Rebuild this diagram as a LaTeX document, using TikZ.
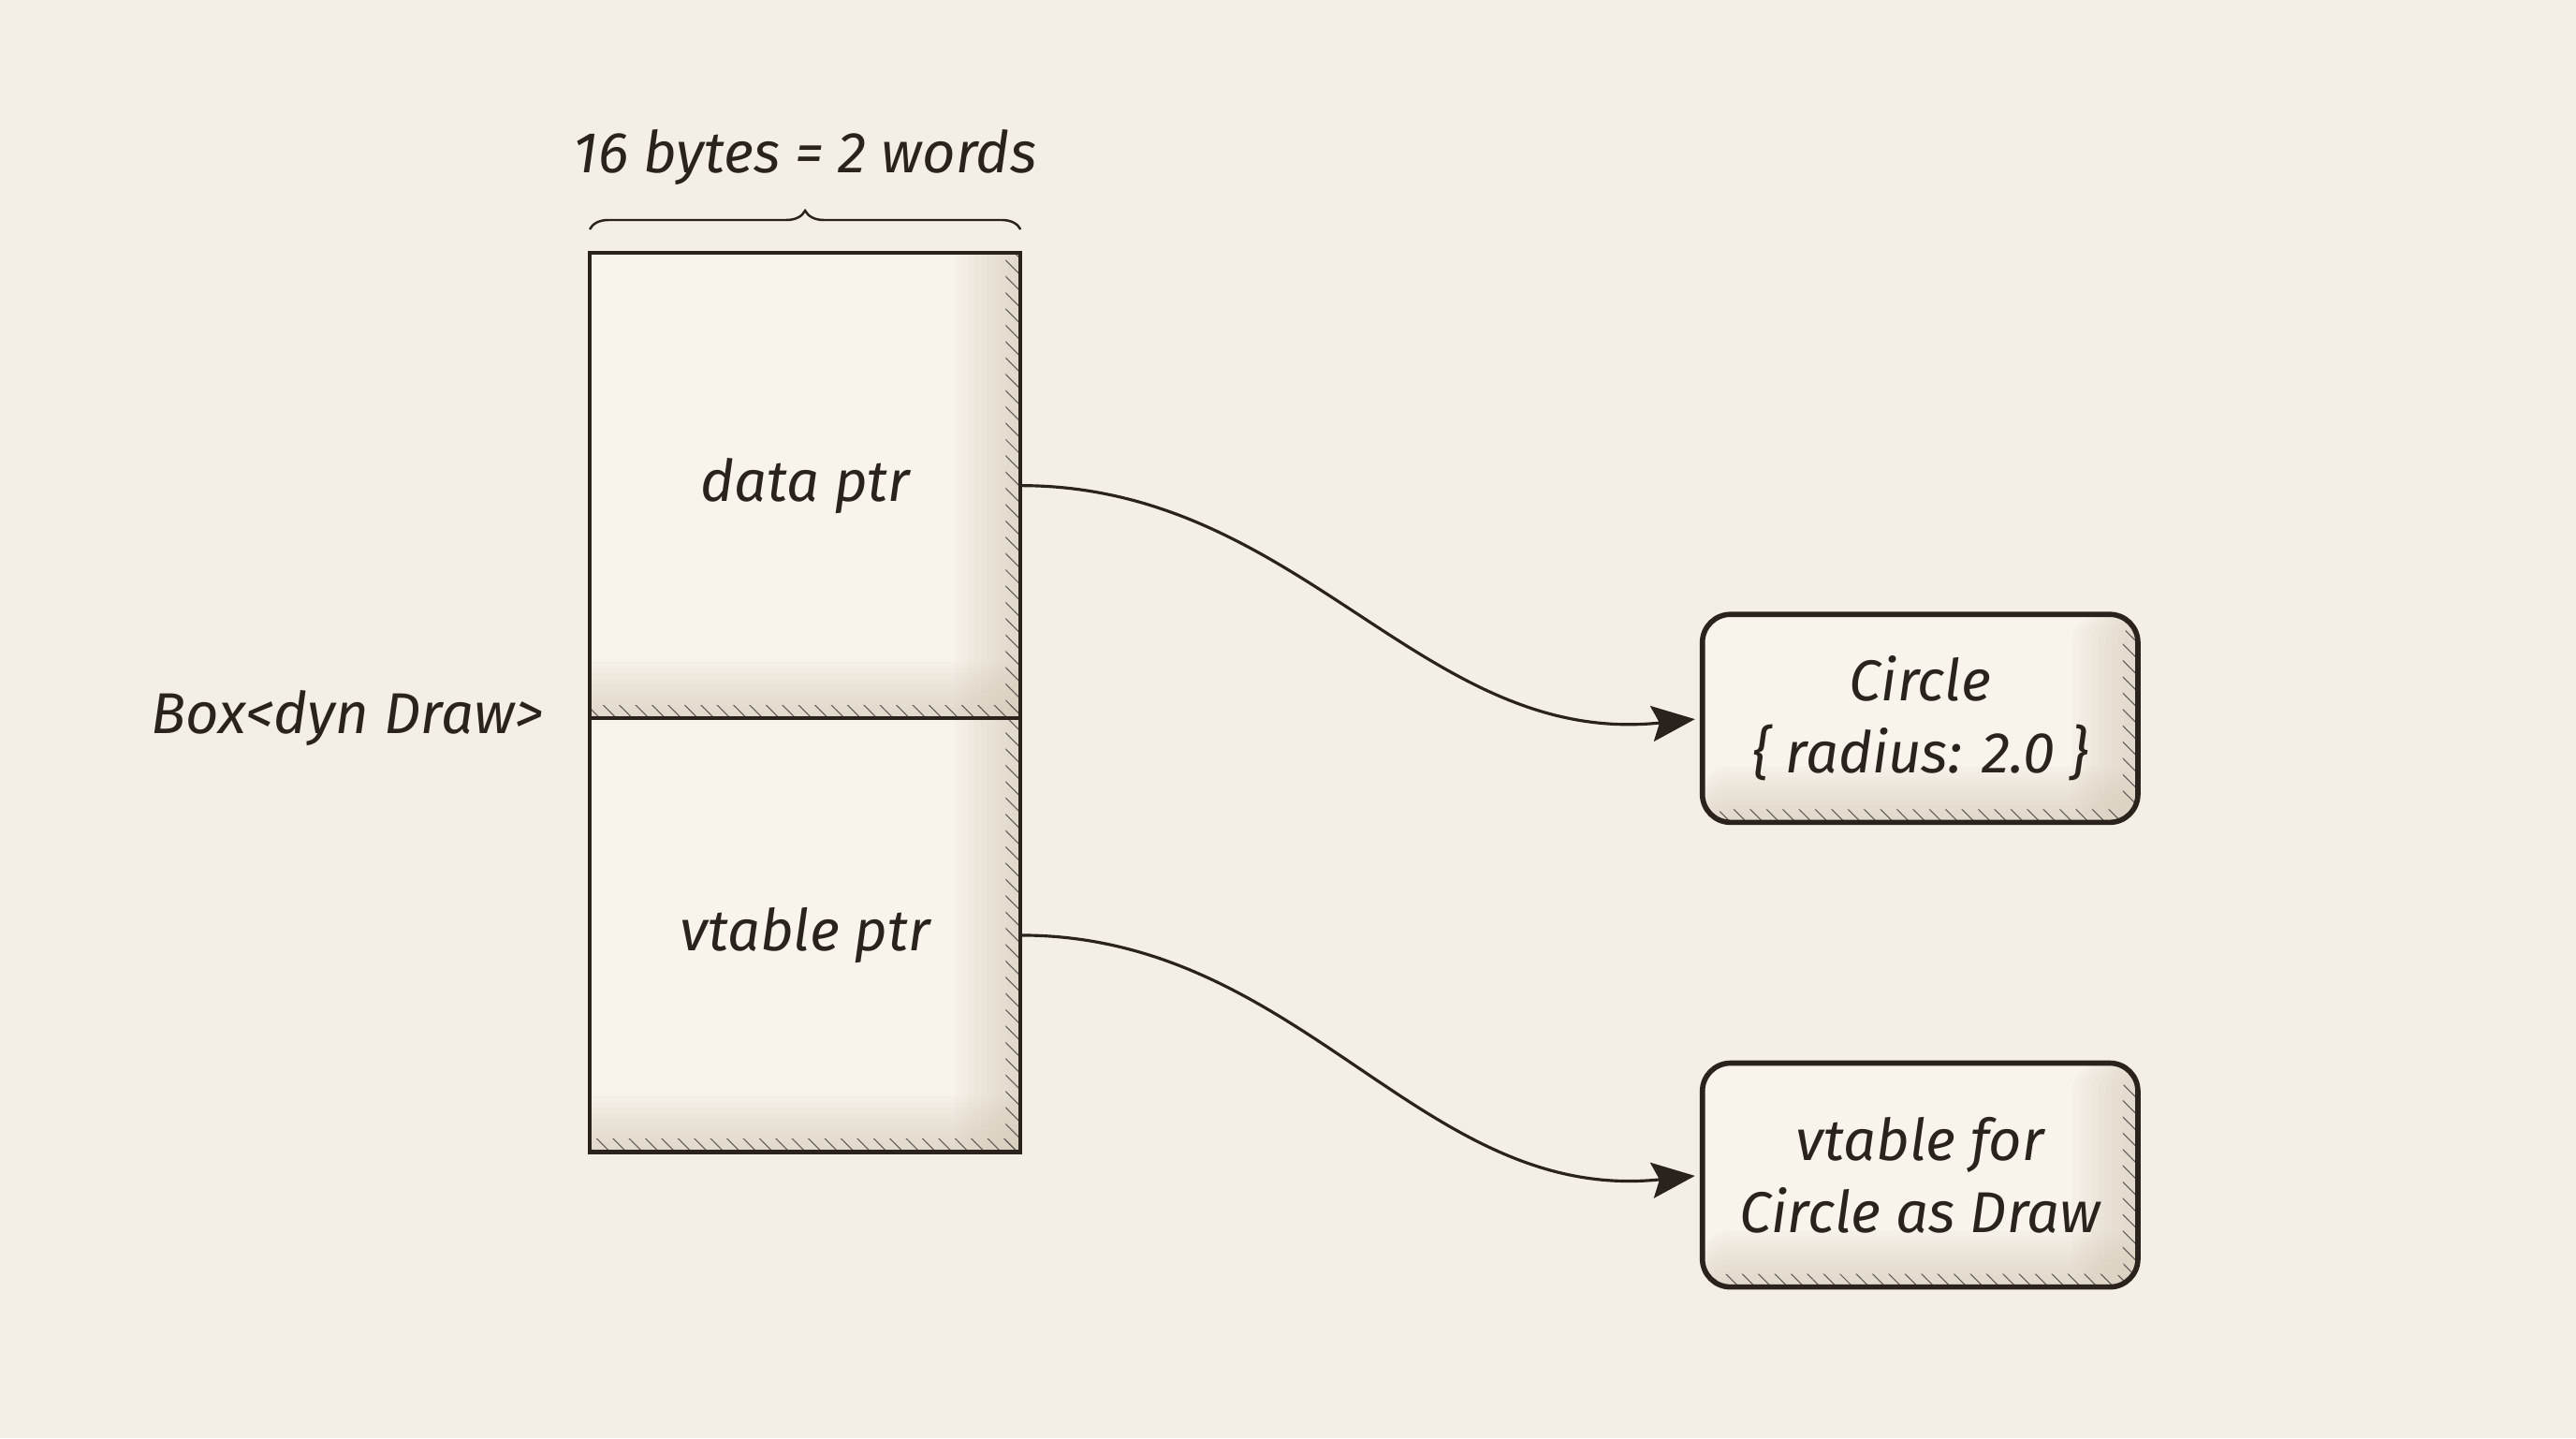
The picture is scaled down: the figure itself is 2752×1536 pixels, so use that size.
\documentclass[tikz,border=0pt]{standalone}
\usepackage{fontspec}
\setmainfont{Fira Sans}
\usepackage{tikz}
\usetikzlibrary{arrows.meta, positioning, decorations.pathreplacing, patterns.meta}
\definecolor{paper}{HTML}{F4EFE5}
\definecolor{ink}{HTML}{2A221C}
\definecolor{boxbg}{HTML}{F8F4EC}
\definecolor{shadow}{HTML}{D8CDBC}
\tikzset{
    hand/.style={font=\fontsize{17.5}{22}\selectfont\itshape, text=ink},
    shadowed/.style={path picture={
        \foreach \i in {1,...,10}{
            \fill[shadow, opacity=0.09] ([xshift=-\i*0.07cm]path picture bounding box.north east) rectangle (path picture bounding box.south east);
            \fill[shadow, opacity=0.09] ([yshift=\i*0.06cm]path picture bounding box.south west) rectangle (path picture bounding box.south east);
        }
        \fill[pattern={Lines[angle=-45, distance=3.5pt, line width=0.3pt]}, pattern color=ink!75] ([xshift=-0.16cm]path picture bounding box.north east) rectangle (path picture bounding box.south east);
        \fill[pattern={Lines[angle=-45, distance=3.5pt, line width=0.3pt]}, pattern color=ink!75] ([yshift=0.14cm]path picture bounding box.south west) rectangle (path picture bounding box.south east);
    }},
    cell/.style={hand, rectangle, draw=ink, line width=1.2pt, fill=boxbg, shadowed, minimum width=4.6cm, inner sep=0pt, outer sep=0pt},
    obj/.style={hand, rectangle, draw=ink, line width=1.6pt, fill=boxbg, shadowed, rounded corners=0.3cm, minimum width=4.65cm, align=center, inner sep=0pt, outer sep=0pt},
    ptr/.style={-{Stealth[length=0.46cm, width=0.38cm, inset=0.08cm]}, line width=0.9pt, draw=ink, shorten >=0.08cm},
    sizebrace/.style={decorate, decoration={brace, amplitude=0.2cm}, draw=ink, line width=0.7pt}
}
\begin{document}
\begin{tikzpicture}[x=0.01cm, y=-0.01cm]
    \fill[paper] (0,0) rectangle (2752,1536);
    \useasboundingbox (0,0) rectangle (2752,1536);

    % the fat pointer
    \node [cell, minimum height=4.97cm, anchor=north west] (data) at (630,270) {data ptr};
    \node [cell, minimum height=4.63cm, below=0pt of data] (vtab) {vtable ptr};

    \draw [sizebrace] ([yshift=0.25cm]data.north west) -- ([yshift=0.25cm]data.north east);
    \node [hand, above=0.6cm of data.north] (size) {16 bytes = 2 words};
    \node [hand, left=0.37cm of data.south west, anchor=east] (boxtype) {Box<dyn Draw>};

    % what it points to
    \node [obj, minimum height=2.22cm, right=7.28cm of data.south east, anchor=west] (circle) {Circle\\\{ radius: 2.0 \}};
    \node [obj, minimum height=2.39cm, below=2.57cm of circle] (vtbl) {vtable for\\Circle as Draw};

    \draw [ptr] (data.east) to[out=0, in=186] (circle.west);
    \draw [ptr] (vtab.east) to[out=0, in=186] (vtbl.west);
\end{tikzpicture}
\end{document}
